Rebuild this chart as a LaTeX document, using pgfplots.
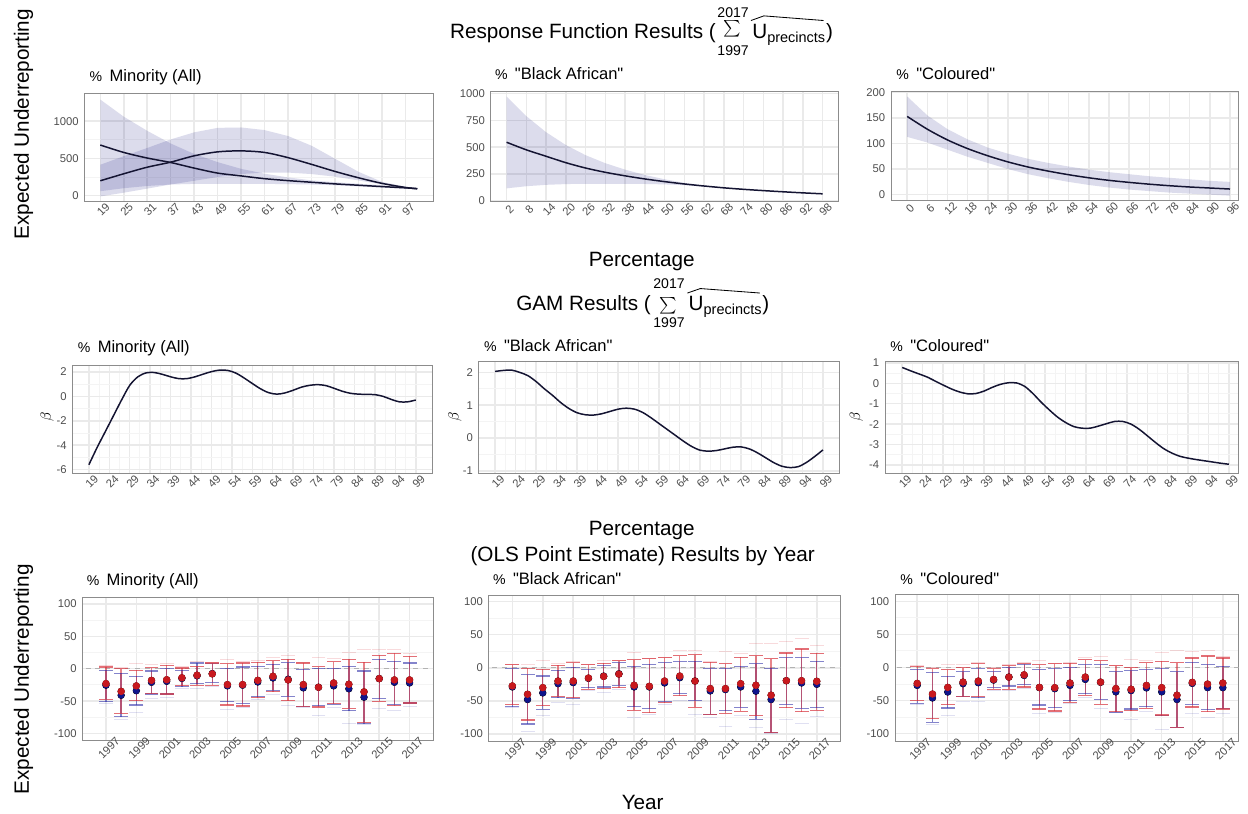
\documentclass[border=0pt]{standalone}
\usepackage{fontspec}
\setmainfont{Liberation Sans}
\setsansfont{Liberation Sans}
\newfontfamily\qf{Liberation Sans}
\usepackage{pgfplots}
\pgfplotsset{compat=1.18}
\usepackage{pgfplotstable}

\definecolor{linecol}{RGB}{20,20,50}
\definecolor{bandcol}{RGB}{5,5,119}
\definecolor{tickgray}{RGB}{77,77,77}
\definecolor{gridmaj}{RGB}{234,234,234}
\definecolor{gridmin}{RGB}{244,244,244}
\definecolor{boxcol}{RGB}{140,140,140}
\definecolor{ptred}{RGB}{200,25,30}
\definecolor{ptblue}{RGB}{15,20,140}
\definecolor{capred}{RGB}{215,50,60}
\definecolor{capblue}{RGB}{50,50,170}

\pgfplotsset{
 base/.style={
  scale only axis, anchor=south west,
  axis line style={draw=boxcol, line width=0.6pt},
  grid=both,
  major grid style={draw=gridmaj, line width=0.9pt},
  minor grid style={draw=gridmin, line width=0.6pt},
  major tick length=0pt, minor tick length=0pt,
  scaled ticks=false,
  tick label style={font=\fontsize{6.8}{7}\selectfont, text=tickgray},
  xticklabel style={xshift=1.8pt, yshift=-4.8pt, rotate=45, anchor=center},
  /pgf/number format/assume math mode=true,
  /pgf/number format/1000 sep={},
 },
 band/.style={fill=bandcol, fill opacity=0.14, draw=none, no markers},
 curve/.style={draw=linecol, line width=0.9pt, smooth, no markers},
}

% ---------- Response function data ----------
\pgfplotstableread{
x A B
19 680 200
25 580 294
31 505 382
37 445 450
43 370 535
49 303 588
55 265 601
61 228 580
67 202 510
73 180 420
79 158 325
85 140 240
91 122 165
97 105 110
100 95 92
}\Pone
\pgfplotstableread{
x y
19 1290
25 1060
31 870
37 700
43 560
49 450
55 360
61 295
67 245
73 205
79 180
85 160
91 140
97 118
100 100
100 88
97 92
91 108
85 125
79 140
73 150
67 155
61 158
55 160
49 160
43 158
37 150
31 130
25 100
19 60
}\PoneA
\pgfplotstableread{
x y
19 415
25 530
31 640
37 755
43 850
49 910
55 915
61 880
67 800
73 670
79 495
85 320
91 185
97 120
100 98
100 88
97 105
91 150
85 205
79 255
73 290
67 310
61 310
55 290
49 250
43 200
37 150
31 95
25 40
19 -10
}\PoneB
\pgfplotstableread{
x y
2 546
8 475
14 415
20 355
26 305
32 265
38 232
44 203
50 178
56 156
62 137
68 120
74 106
80 94
86 83
92 73
98 64
}\Ptwo
\pgfplotstableread{
x y
2 975
8 790
14 640
20 520
26 425
32 350
38 290
44 240
50 200
56 166
62 142
68 124
74 109
80 96
86 85
92 75
98 66
98 62
92 71
86 81
80 92
74 103
68 116
62 132
56 145
50 152
44 156
38 158
32 158
26 158
20 155
14 148
8 135
2 115
}\PtwoB
\pgfplotstableread{
x y
0 153
6 128
12 107
18 90
24 76
30 64
36 54
42 46
48 39
54 33
60 28
66 24
72 20.5
78 17.5
84 15
90 13
96 11
}\Pthree
\pgfplotstableread{
x y
0 192
6 155
12 128
18 108
24 92
30 80
36 70
42 62
48 55
54 49
60 44
66 40
72 36
78 33
84 30
90 27
96 25
96 -2
90 0
84 2
78 4
72 7
66 10
60 14
54 19
48 25
42 32
36 40
30 50
24 62
18 74
12 88
6 102
0 113
}\PthreeB

% ---------- GAM data ----------
\pgfplotstableread{
x y
19 -5.6
21 -4.2
23 -2.9
25 -1.6
27 -0.3
29 0.9
31 1.6
33 1.92
35 1.95
37 1.8
39 1.6
41 1.45
43 1.45
45 1.6
47 1.82
49 2.02
51 2.15
53 2.12
55 1.9
57 1.5
59 1.05
61 0.62
63 0.3
65 0.18
67 0.28
69 0.5
71 0.75
73 0.9
75 0.96
77 0.88
79 0.66
81 0.42
83 0.25
85 0.18
87 0.16
89 0.14
91 0.0
93 -0.25
95 -0.45
97 -0.45
99 -0.3
}\Pfour
\pgfplotstableread{
x y
19 2.03
21 2.06
23 2.07
25 2.0
27 1.9
29 1.72
31 1.5
33 1.3
35 1.08
37 0.9
39 0.77
41 0.71
43 0.7
45 0.74
47 0.81
49 0.88
51 0.91
53 0.88
55 0.78
57 0.62
59 0.44
61 0.26
63 0.08
65 -0.1
67 -0.26
69 -0.37
71 -0.4
73 -0.38
75 -0.33
77 -0.28
79 -0.27
81 -0.33
83 -0.45
85 -0.6
87 -0.75
89 -0.86
91 -0.9
93 -0.87
95 -0.74
97 -0.56
99 -0.36
}\Pfive
\pgfplotstableread{
x y
19 0.78
21 0.62
23 0.47
25 0.32
27 0.12
29 -0.08
31 -0.27
33 -0.42
35 -0.51
37 -0.5
39 -0.38
41 -0.2
43 -0.05
45 0.03
47 0.02
49 -0.15
51 -0.5
53 -0.92
55 -1.3
57 -1.65
59 -1.92
61 -2.12
63 -2.2
65 -2.2
67 -2.1
69 -1.98
71 -1.87
73 -1.87
75 -2.0
77 -2.25
79 -2.57
81 -2.9
83 -3.2
85 -3.42
87 -3.58
89 -3.67
91 -3.74
93 -3.8
95 -3.86
97 -3.92
99 -3.97
}\Psix

% ---------- OLS by year data ----------
\pgfplotstableread{
yr r rlo rhi b blo bhi ft fb
1997 -23 -47 2.5 -25.5 -51 -2.5 5 -53
1998 -35 -69 0 -41 -74 -7 2 -79
1999 -26.5 -49.5 -2.5 -34 -56 -12 8 -68
2000 -18 -38 1.5 -21 -39 -3.5 6 -46
2001 -17 -39 5 -19.5 -39 0 8 -45
2002 -14 -26.5 1 -15 -28 -2.5 3 -30
2003 -10 -25.5 4 -11 -23 8.7 11 -30
2004 -8 -25.5 8.7 -7.5 -21 7.7 9 -27
2005 -24.5 -56 7.7 -26.5 -51 0 14 -63
2006 -24.5 -57.5 8.7 -25.5 -53.5 2.5 11 -60
2007 -18 -45 9.7 -20.5 -43 3.6 12 -47
2008 -11.7 -35.7 12 -14.3 -33 7 18 -40
2009 -17.3 -49.5 14.3 -16.3 -42.3 9.2 21 -56
2010 -24.5 -58.7 8.7 -29.6 -57.7 -1 10 -60
2011 -28.6 -59 3 -28.6 -57 0 17 -72
2012 -22 -53.5 11 -26.5 -55 0 15 -60
2013 -24 -61 14.3 -31 -65 3.6 25 -84
2014 -35.7 -82.6 10 -44 -84.7 -3.6 29 -86
2015 -15.3 -50 20.4 -15.3 -46 14.3 30 -61
2016 -17.3 -57 23.5 -21 -55 11.2 30 -64
2017 -17.3 -53 19.4 -22 -53 8.7 23 -59
}\Pseven
\pgfplotstableread{
yr r rlo rhi b blo bhi ft fb
1997 -27.4 -56 4.5 -29 -59 -1.5 5 -60
1998 -40 -79 -0.5 -48 -85 -10.5 5 -96
1999 -30 -57 -2.5 -38 -63 -12.5 11 -72
2000 -20 -43 3.5 -24 -45 -3.5 7 -52
2001 -20 -45.4 7.5 -22.4 -46.4 1 10 -55
2002 -15.5 -32.4 4.5 -16 -30 -2.5 5 -35
2003 -13 -31.4 6.5 -12.5 -29 3.5 11 -38
2004 -9.5 -30.4 10.5 -9 -26.4 7.5 11 -33
2005 -26.4 -64 12.5 -29 -59 2.5 23 -75
2006 -28 -68 13.5 -29 -62 5 14 -70
2007 -20 -53 15 -23 -50.4 7.5 15 -56
2008 -12.5 -42.4 18.5 -15 -39 9.5 26 -50
2009 -20 -60 20 -20 -49 10 26 -70
2010 -31.4 -70 8 -35 -70 -1.5 9 -75
2011 -31.4 -69 6 -33 -65 -0.5 24 -88
2012 -24 -66 16 -29 -60 2 21 -72
2013 -26.4 -72.3 18.5 -35.4 -78 6 36 -90
2014 -41.4 -97.8 13.5 -48 -97.3 -0.5 37 -100
2015 -19.5 -60.3 22.4 -19.5 -55 15 40 -78
2016 -19.5 -66.3 28.4 -23 -61.3 15 44 -84
2017 -20.4 -64 22 -25 -60.3 10 33 -74
}\Peight
\pgfplotstableread{
yr r rlo rhi b blo bhi ft fb
1997 -24 -50 2 -27 -54 -3 3 -56
1998 -40 -77 -2 -46 -83 -7 0 -86
1999 -30 -56 -3 -37 -61 -13.4 5 -73
2000 -22 -43.3 0 -24.4 -44.3 -6 4 -52
2001 -20.4 -44.3 5.5 -23 -45.8 -2 7 -52
2002 -18 -33 -2 -19 -30 -6 0 -35
2003 -14.4 -33 3 -14.4 -28 0 5 -34
2004 -11 -29.4 6 -12 -25.4 4 7 -31
2005 -30 -62.7 4 -30.4 -56.7 -3 10 -70
2006 -30.4 -65.7 5.5 -32 -60.7 -2 6 -68
2007 -23.4 -52.7 6.5 -27 -50 -0.5 7 -55
2008 -14.4 -41.8 12 -18 -39.3 4 15 -45
2009 -22 -55.7 10.5 -22.4 -47.8 4.5 16 -62
2010 -31.8 -66.7 3 -36.8 -67.7 -6 3 -68
2011 -32.8 -65.2 0 -34.8 -62.7 -4.5 12 -78
2012 -27 -61.7 7.5 -30.8 -59.2 -3 10 -66
2013 -30.4 -71.6 9.5 -36.8 -73 -1 23 -94
2014 -41.8 -90.5 7 -48.3 -90 -6 25 -91
2015 -22.4 -59.7 14.4 -24 -55.7 8 24 -70
2016 -25 -66.7 17.4 -30.4 -64 4 25 -75
2017 -23.4 -62.7 14.4 -30.4 -61.7 2 17 -69
}\Pnine

\newcommand{\olsplots}[1]{%
  \addplot[gray!60, dashed, line width=0.5pt] coordinates {(1995,0) (2019,0)};
  \addplot[only marks, mark=-, mark size=4.2pt, mark options={draw=capred, draw opacity=0.18, line width=0.6pt}] table[x=yr,y=ft]{#1};
  \addplot[only marks, mark=-, mark size=4.2pt, mark options={draw=capblue, draw opacity=0.15, line width=0.6pt}] table[x=yr,y=fb]{#1};
  \addplot[only marks, mark=none, error bars/.cd, y dir=both, y explicit, error mark=none,
     error bar style={draw=capblue, draw opacity=0.6, line width=0.8pt}]
     table[x=yr, y=b, y error plus expr=\thisrow{bhi}-\thisrow{b}, y error minus expr=\thisrow{b}-\thisrow{blo}]{#1};
  \addplot[only marks, mark=none, error bars/.cd, y dir=both, y explicit, error mark=none,
     error bar style={draw=capred, draw opacity=0.6, line width=0.8pt}]
     table[x=yr, y=r, y error plus expr=\thisrow{rhi}-\thisrow{r}, y error minus expr=\thisrow{r}-\thisrow{rlo}]{#1};
  \addplot[only marks, mark=-, mark size=4.2pt, mark options={draw=capblue, draw opacity=0.6, line width=0.7pt}] table[x=yr,y=blo]{#1};
  \addplot[only marks, mark=-, mark size=4.2pt, mark options={draw=capblue, draw opacity=0.6, line width=0.7pt}] table[x=yr,y=bhi]{#1};
  \addplot[only marks, mark=-, mark size=4.2pt, mark options={draw=capred, draw opacity=0.7, line width=0.7pt}] table[x=yr,y=rlo]{#1};
  \addplot[only marks, mark=-, mark size=4.2pt, mark options={draw=capred, draw opacity=0.7, line width=0.7pt}] table[x=yr,y=rhi]{#1};
  \addplot[only marks, mark=*, mark size=1.8pt, mark options={draw=ptblue, fill=ptblue}] table[x=yr,y=b]{#1};
  \addplot[only marks, mark=*, mark size=2pt, mark options={draw=ptred, fill=ptred}] table[x=yr,y=r]{#1};
}

\newcommand{\ptitle}[3]{\node[anchor=base west, inner sep=0, font=\fontsize{10}{12}\selectfont] at (#1,#2) {{\fontsize{8.5}{9}\selectfont$\%$}\hspace{4.5pt}{\qf #3}};}

\begin{document}
\begin{tikzpicture}
\path (0,0) rectangle (748.8pt,491.4pt);

% ================= Row 1 =================
\begin{axis}[base, at={(51pt,369.6pt)}, width=210.6pt, height=65.4pt,
  xmin=14.95, xmax=104.05, ymin=-80, ymax=1373,
  xtick={19,25,...,97}, ytick={0,500,1000}, minor y tick num=1]
  \addplot[band] table[x=x,y=y]{\PoneA};
  \addplot[band] table[x=x,y=y]{\PoneB};
  \addplot[curve] table[x=x,y=A]{\Pone};
  \addplot[curve] table[x=x,y=B]{\Pone};
\end{axis}

\begin{axis}[base, at={(296.4pt,369.6pt)}, width=210pt, height=66.6pt,
  xmin=-2.8, xmax=102.8, ymin=-9, ymax=1021,
  xtick={2,8,...,98}, ytick={0,250,500,750,1000}]
  \addplot[band] table[x=x,y=y]{\PtwoB};
  \addplot[curve] table[x=x,y=y]{\Ptwo};
\end{axis}

\begin{axis}[base, at={(538.2pt,370.2pt)}, width=210pt, height=66pt,
  xmin=-4.8, xmax=98.6, ymin=-11.7, ymax=202,
  xtick={0,6,...,96}, ytick={0,50,100,150,200}]
  \addplot[band] table[x=x,y=y]{\PthreeB};
  \addplot[curve] table[x=x,y=y]{\Pthree};
\end{axis}

% ================= Row 2 =================
\begin{axis}[base, at={(43.8pt,205.2pt)}, width=217.2pt, height=65.4pt,
  xmin=15, xmax=103, ymin=-6.34, ymax=2.52,
  xtick={19,24,...,99}, ytick={-6,-4,-2,0,2}, minor x tick num=1, minor y tick num=1]
  \addplot[curve] table[x=x,y=y]{\Pfour};
\end{axis}

\begin{axis}[base, at={(289.2pt,205.2pt)}, width=217.8pt, height=67.8pt,
  xmin=15, xmax=103, ymin=-1.09, ymax=2.33,
  xtick={19,24,...,99}, ytick={-1,0,1,2}, minor x tick num=1, minor y tick num=1]
  \addplot[curve] table[x=x,y=y]{\Pfive};
\end{axis}

\begin{axis}[base, at={(534.6pt,205.2pt)}, width=213.6pt, height=67.8pt,
  xmin=14.8, xmax=101.4, ymin=-4.44, ymax=1.07,
  xtick={19,24,...,99}, ytick={-4,-3,-2,-1,0,1}, minor x tick num=1, minor y tick num=1]
  \addplot[curve] table[x=x,y=y]{\Psix};
\end{axis}

% ================= Row 3 =================
\begin{axis}[base, at={(49.8pt,44.4pt)}, width=211.8pt, height=85.8pt,
  xmin=1995.45, xmax=2018.55, ymin=-110, ymax=109,
  xtick={1997,1999,...,2017}, ytick={-100,-50,0,50,100}, minor x tick num=1, minor y tick num=1]
  \olsplots{\Pseven}
\end{axis}

\begin{axis}[base, at={(295.2pt,43.8pt)}, width=212.4pt, height=88.2pt,
  xmin=1995.45, xmax=2018.55, ymin=-110.7, ymax=110,
  xtick={1997,1999,...,2017}, ytick={-100,-50,0,50,100}, minor x tick num=1, minor y tick num=1]
  \olsplots{\Peight}
\end{axis}

\begin{axis}[base, at={(540.6pt,43.8pt)}, width=207.6pt, height=88.8pt,
  xmin=1995.55, xmax=2018.04, ymin=-111, ymax=111,
  xtick={1997,1999,...,2017}, ytick={-100,-50,0,50,100}, minor x tick num=1, minor y tick num=1]
  \olsplots{\Pnine}
\end{axis}

% ================= Texts =================
\node[anchor=base east, inner sep=0, font=\fontsize{12.5}{14}\selectfont] at (432.6pt,468pt) {Response Function Results (};
\node[inner sep=0, font=\fontsize{14}{16}\selectfont] at (442.5pt,474.3pt) {$\sum$};
\node[inner sep=0, font=\fontsize{8.5}{9}\selectfont] at (442.8pt,484pt) {2017};
\node[inner sep=0, font=\fontsize{8.5}{9}\selectfont] at (442.8pt,460.8pt) {1997};
\node[anchor=base west, inner sep=0, font=\fontsize{12.5}{14}\selectfont] at (454.2pt,468pt) {U\textsubscript{precincts})};
\draw[line width=0.5pt] (453.6pt,479pt) -- (461.4pt,481.8pt) -- (497.4pt,479pt);

\node[anchor=base east, inner sep=0, font=\fontsize{12.5}{14}\selectfont] at (393.3pt,303.9pt) {GAM Results (};
\node[inner sep=0, font=\fontsize{14}{16}\selectfont] at (403.8pt,306.9pt) {$\sum$};
\node[inner sep=0, font=\fontsize{8.5}{9}\selectfont] at (404.1pt,319.8pt) {2017};
\node[inner sep=0, font=\fontsize{8.5}{9}\selectfont] at (404.1pt,296.7pt) {1997};
\node[anchor=base west, inner sep=0, font=\fontsize{12.5}{14}\selectfont] at (415.8pt,303.9pt) {U\textsubscript{precincts})};
\draw[line width=0.5pt] (415.2pt,314.4pt) -- (423pt,317.1pt) -- (459pt,314.4pt);

\node[anchor=base, inner sep=0, font=\fontsize{12.5}{14}\selectfont] at (387.6pt,330.6pt) {Percentage};
\node[anchor=base, inner sep=0, font=\fontsize{12.5}{14}\selectfont] at (387.6pt,168pt) {Percentage};
\node[anchor=base, inner sep=0, font=\fontsize{12.5}{14}\selectfont] at (388.2pt,152.4pt) {(OLS Point Estimate) Results by Year};
\node[anchor=base, inner sep=0, font=\fontsize{12.5}{14}\selectfont] at (388.2pt,2.4pt) {Year};

\node[rotate=90, anchor=base, inner sep=0, font=\fontsize{12.5}{14}\selectfont] at (17.4pt,416.4pt) {Expected Underreporting};
\node[rotate=90, anchor=base, inner sep=0, font=\fontsize{12.5}{14}\selectfont] at (17.4pt,81pt) {Expected Underreporting};

\node[rotate=90, inner sep=0, font=\fontsize{9.5}{10}\selectfont] at (28.5pt,239.4pt) {$\beta$};
\node[rotate=90, inner sep=0, font=\fontsize{9.5}{10}\selectfont] at (274.8pt,239.4pt) {$\beta$};
\node[rotate=90, inner sep=0, font=\fontsize{9.5}{10}\selectfont] at (517.2pt,239.4pt) {$\beta$};

\ptitle{54pt}{442.2pt}{Minority (All)}
\ptitle{298.8pt}{443.4pt}{"Black African"}
\ptitle{541.2pt}{443.4pt}{"Coloured"}
\ptitle{46.8pt}{278.4pt}{Minority (All)}
\ptitle{292.2pt}{279pt}{"Black African"}
\ptitle{537.6pt}{279pt}{"Coloured"}
\ptitle{52.2pt}{138pt}{Minority (All)}
\ptitle{297.6pt}{138.6pt}{"Black African"}
\ptitle{543.6pt}{138.6pt}{"Coloured"}
\end{tikzpicture}
\end{document}
